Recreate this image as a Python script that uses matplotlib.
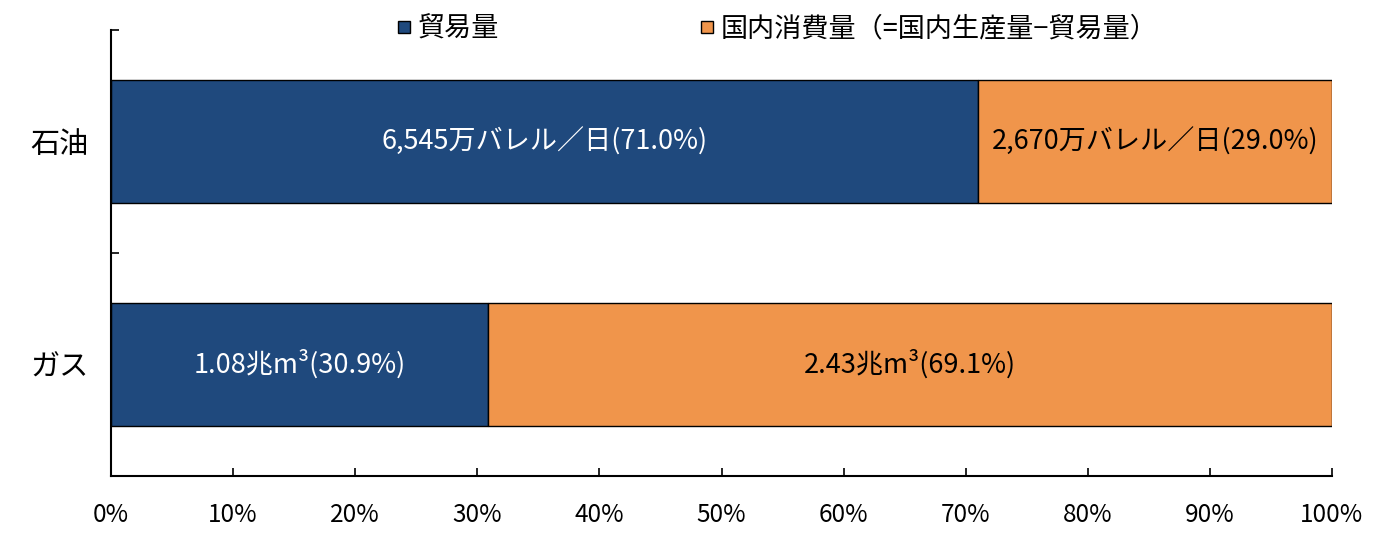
import matplotlib
matplotlib.use("Agg")
import matplotlib.pyplot as plt
from matplotlib.lines import Line2D
from matplotlib.ticker import FixedLocator

plt.rcParams['font.family'] = ['Noto Sans CJK JP', 'DejaVu Sans']

categories = ["石油", "ガス"]
series_names = ["貿易量", "国内消費量（=国内生産量−貿易量）"]
trade_share = [71.0, 30.9]
domestic_share = [29.0, 69.1]
trade_labels = ["6,545万バレル／日(71.0%)", "1.08兆m³(30.9%)"]
domestic_labels = ["2,670万バレル／日(29.0%)", "2.43兆m³(69.1%)"]
xticks = [0, 10, 20, 30, 40, 50, 60, 70, 80, 90, 100]
xtick_labels = ["0%", "10%", "20%", "30%", "40%", "50%", "60%", "70%", "80%", "90%", "100%"]

navy = "#1F497D"
orange = "#F0954B"

fig = plt.figure(figsize=(13.8, 5.35), dpi=100)
ax = fig.add_axes([111/1380, 59/535, (1332-111)/1380, (476-30)/535])

ypos = [1, 0]
h = 0.556
ax.barh(ypos, trade_share, height=h, color=navy, edgecolor="black", linewidth=1.0)
ax.barh(ypos, domestic_share, left=trade_share, height=h, color=orange, edgecolor="black", linewidth=1.0)

for y, t, d, tl, dl in zip(ypos, trade_share, domestic_share, trade_labels, domestic_labels):
    ax.text(t/2, y, tl, ha="center", va="center", color="white", fontsize=19.5)
    ax.text(t + d/2, y, dl, ha="center", va="center", color="black", fontsize=19.5)

ax.set_xlim(0, 100)
ax.set_ylim(-0.5, 1.5)
ax.set_xticks(xticks)
ax.set_xticklabels(xtick_labels, fontsize=17.5)
ax.tick_params(axis="x", direction="in", length=6, width=1.2, pad=19)

ax.yaxis.set_major_locator(FixedLocator([-0.5, 0.5, 1.5]))
ax.set_yticklabels(["", "", ""])
ax.yaxis.set_minor_locator(FixedLocator(ypos))
ax.set_yticklabels(categories, minor=True, fontsize=21)
ax.tick_params(axis="y", which="major", direction="in", length=6, width=1.2)
ax.tick_params(axis="y", which="minor", length=0, pad=16)

for s in ["top", "right"]:
    ax.spines[s].set_visible(False)
for s in ["left", "bottom"]:
    ax.spines[s].set_linewidth(1.5)

handles = [Line2D([], [], marker="s", linestyle="none", markersize=9, markerfacecolor=c,
                  markeredgecolor="black", markeredgewidth=1.0) for c in (navy, orange)]
fig.legend(handles, series_names, loc="center left", bbox_to_anchor=(393/1380, 1-29/535),
           ncol=2, frameon=False, fontsize=19.5, handletextpad=0.1, columnspacing=7.3,
           handlelength=0.8, borderpad=0, borderaxespad=0)

fig.savefig("out.png", dpi=100)
